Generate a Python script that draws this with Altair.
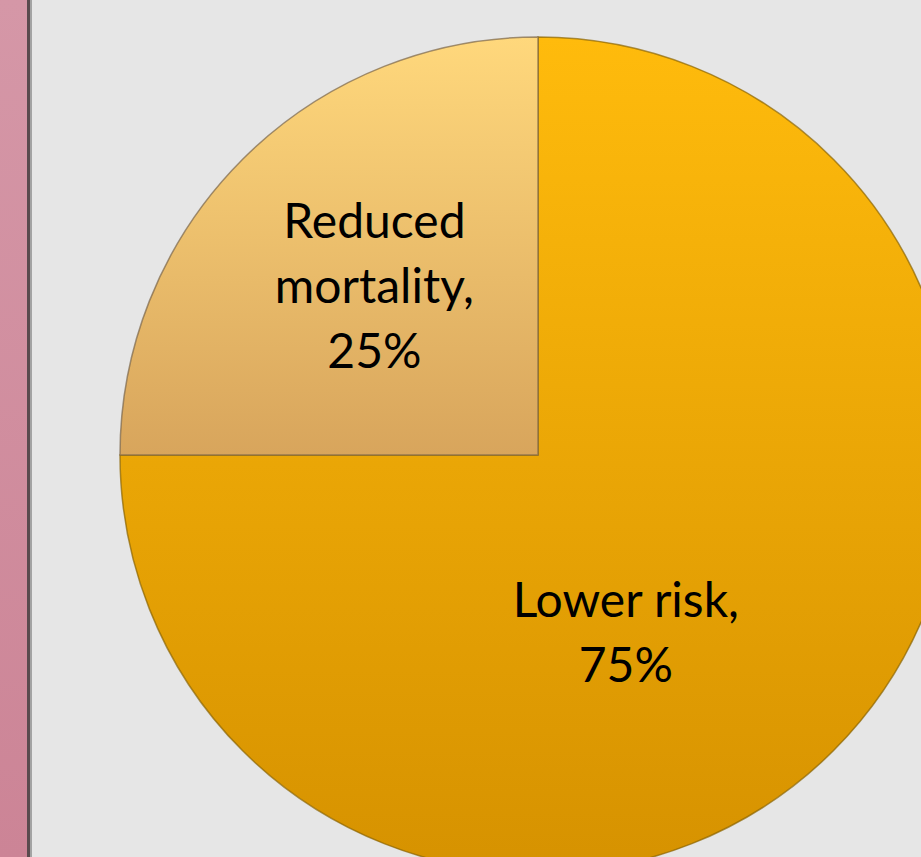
import altair as alt
import pandas as pd

categories = ["Lower risk", "Reduced mortality"]
values = [75, 25]
labels = ["Lower risk,\n75%", "Reduced\nmortality,\n25%"]

df = pd.DataFrame({"category": categories, "value": values, "label": labels,
                   "order": [0, 1]})

W, H = 921, 857
CX, CY, R = 538, 455, 418

theta_scale = alt.Scale(domain=[0, 100], range=[0, 6.283185307])

def grad(c1, c2):
    return alt.LinearGradient(
        gradient="linear", x1=0, y1=0, x2=0, y2=1,
        stops=[alt.GradientStop(offset=0, color=c1),
               alt.GradientStop(offset=1, color=c2)])

base = alt.Chart(df).transform_window(
    cum="sum(value)", sort=[alt.SortField("order")]
).transform_calculate(
    start="datum.cum - datum.value",
    mid="datum.cum - datum.value / 2"
)

strip = base.mark_rect(color=grad("#d597a7", "#cc8496")).encode(
    x=alt.value(0), x2=alt.value(27), y=alt.value(0), y2=alt.value(H))
dark = base.mark_rect(color="#5a4a4e").encode(
    x=alt.value(27), x2=alt.value(30), y=alt.value(0), y2=alt.value(H))
light = base.mark_rect(color="#a3a3a3").encode(
    x=alt.value(30), x2=alt.value(32), y=alt.value(0), y2=alt.value(H))

def arc_layer(cat, c1, c2, stroke):
    return base.transform_filter(alt.datum.category == cat).mark_arc(
        color=grad(c1, c2), stroke=stroke, strokeWidth=1.5, strokeOpacity=0.7
    ).encode(
        theta=alt.Theta("start:Q", scale=theta_scale),
        theta2="cum:Q",
        x=alt.value(CX), y=alt.value(CY), radius=alt.value(R),
    )

arc_low = arc_layer("Lower risk", "#ffbb0c", "#d69200", "#8a6400")
arc_red = arc_layer("Reduced mortality", "#ffd87c", "#d8a55c", "#7a6548")

def text_layer(cat, r, dx, dy):
    return base.transform_filter(alt.datum.category == cat).mark_text(
        font="Lato", fontSize=48, lineHeight=65, lineBreak="\n",
        color="#000000", align="center", baseline="middle", dx=dx, dy=dy
    ).encode(
        theta=alt.Theta("mid:Q", scale=theta_scale),
        radius=alt.value(r),
        x=alt.value(CX), y=alt.value(CY),
        text="label:N",
    )

txt_low = text_layer("Lower risk", 127, -2, 58)
txt_red = text_layer("Reduced mortality", 237, 4, -63)

chart = alt.layer(strip, dark, light, arc_low, arc_red, txt_low, txt_red).properties(
    width=W, height=H, autosize=alt.AutoSizeParams(type="none"), padding=0,
    background="#e6e6e6"
).configure_view(stroke=None)

chart.save("out.html", embed_options={"renderer": "svg", "actions": False})
